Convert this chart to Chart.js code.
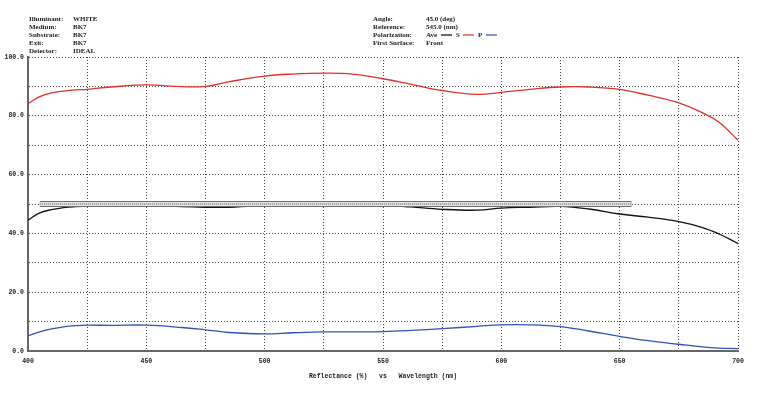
<!DOCTYPE html>
<html>
<head>
<meta charset="utf-8">
<script src="https://cdn.jsdelivr.net/npm/chart.js@4/dist/chart.umd.min.js"></script>
<style>
html,body{margin:0;padding:0;background:#fff;}
#wrap{width:758px;height:393px;position:relative;}
</style>
</head>
<body>
<div id="wrap"><canvas id="c" width="758" height="393"></canvas></div>
<script>
const wavelengths = [400,405,410,415,420,425,435,450,465,475,485,500,512,525,537,550,562,575,590,600,612,625,637,650,662,675,685,692,700];
const sValues   = [84.1,86.5,87.8,88.4,88.8,89.0,89.8,90.5,89.9,90.0,91.6,93.5,94.2,94.5,94.2,92.6,90.7,88.6,87.3,88.0,89.0,89.8,89.8,89.0,87.0,84.4,81.0,77.8,71.7];
const aveValues = [44.5,47.0,48.1,48.8,49.1,49.2,49.4,49.7,49.1,48.9,48.9,49.6,50.3,50.6,50.2,49.7,49.0,48.2,47.9,48.6,48.9,49.2,48.3,46.6,45.5,44.0,42.0,39.8,36.6];
const pValues   = [5.2,6.5,7.5,8.2,8.6,8.8,8.7,8.8,8.0,7.2,6.3,5.8,6.2,6.5,6.5,6.6,7.0,7.6,8.4,8.9,8.9,8.3,6.8,5.0,3.5,2.3,1.4,1.0,0.8];
const specRange = [405, 655];
const specValue = 50;
const yTickLabels = [0,20,40,60,80,100];
const xTickLabels = [400,450,500,550,600,650,700];
const headerLeft = [["Illuminant:","WHITE"],["Medium:","BK7"],["Substrate:","BK7"],["Exit:","BK7"],["Detector:","IDEAL"]];
const headerRight = [["Angle:","45.0 (deg)"],["Reference:","545.0 (nm)"],["Polarization:","Ave"],["First Surface:","Front"]];

const FONT = '"Liberation Serif", serif';
const MONO = '"Liberation Mono", monospace';
const pts = arr => wavelengths.map((w,i)=>({x:w,y:arr[i]}));
const specPts = specRange.map(w=>({x:w,y:specValue}));

const headerPlugin = {
  id:'header',
  afterDraw(chart){
    const ctx = chart.ctx;
    ctx.save();
    ctx.fillStyle = '#222';
    ctx.font = 'bold 7px ' + FONT;
    ctx.textBaseline = 'middle';
    headerLeft.forEach((r,i)=>{
      const y = 19 + i*8;
      ctx.fillText(r[0], 29, y);
      ctx.fillText(r[1], 73, y);
    });
    headerRight.forEach((r,i)=>{
      const y = 19 + i*8;
      ctx.fillText(r[0], 373, y);
      ctx.fillText(r[1], 426, y);
    });
    const y = 35;
    ctx.lineWidth = 1.2;
    ctx.strokeStyle = '#000'; ctx.beginPath(); ctx.moveTo(441,y); ctx.lineTo(452,y); ctx.stroke();
    ctx.fillText('S', 456, y);
    ctx.strokeStyle = '#e0302a'; ctx.beginPath(); ctx.moveTo(463,y); ctx.lineTo(474,y); ctx.stroke();
    ctx.fillText('P', 478, y);
    ctx.strokeStyle = '#2e55b0'; ctx.beginPath(); ctx.moveTo(486,y); ctx.lineTo(497,y); ctx.stroke();
    ctx.restore();
  }
};

new Chart(document.getElementById('c'), {
  type:'line',
  data:{
    datasets:[
      {data:pts(sValues), borderColor:'#e0302a', borderWidth:1.3, pointRadius:0, tension:0.4, order:3},
      {data:pts(pValues), borderColor:'#2e55b0', borderWidth:1.3, pointRadius:0, tension:0.4, order:3},
      {data:pts(aveValues), borderColor:'#111', borderWidth:1.3, pointRadius:0, tension:0.4, order:4},
      {data:specPts, borderColor:'#6e6e6e', borderWidth:6, pointRadius:0, borderCapStyle:'butt', order:2},
      {data:specPts, borderColor:'#e4e4e4', borderWidth:4, pointRadius:0, borderCapStyle:'butt', order:1},
      {data:specPts, borderColor:'#555', borderWidth:1, borderDash:[1,1], pointRadius:0, borderCapStyle:'butt', order:0}
    ]
  },
  options:{
    responsive:false,
    animation:false,
    layout:{padding:{top:57,right:20,left:0,bottom:13}},
    plugins:{legend:{display:false}, tooltip:{enabled:false}},
    scales:{
      x:{
        type:'linear', min:400, max:700,
        afterFit(s){ s.height = 29; },
        ticks:{stepSize:25, padding:6, maxRotation:0, color:'#222', font:{family:MONO, size:6.5, weight:'bold'},
          callback:v=> xTickLabels.includes(v) ? String(v) : ''},
        grid:{color:'#444', lineWidth:1, drawTicks:false},
        border:{display:true, color:'#666', width:2, dash:[1,2]},
        title:{display:true, text:'Reflectance (%)   vs   Wavelength (nm)', color:'#222', font:{family:MONO, size:6.5, weight:'bold'}, padding:{top:7,bottom:0}}
      },
      y:{
        type:'linear', min:0, max:100,
        afterFit(s){ s.width = 28; },
        ticks:{stepSize:10, padding:4, color:'#222', font:{family:MONO, size:6.5, weight:'bold'},
          callback:v=> yTickLabels.includes(v) ? v.toFixed(1) : ''},
        grid:{color:'#444', lineWidth:1, drawTicks:false},
        border:{display:true, color:'#666', width:2, dash:[1,2]}
      }
    }
  },
  plugins:[headerPlugin]
});
</script>
</body>
</html>
